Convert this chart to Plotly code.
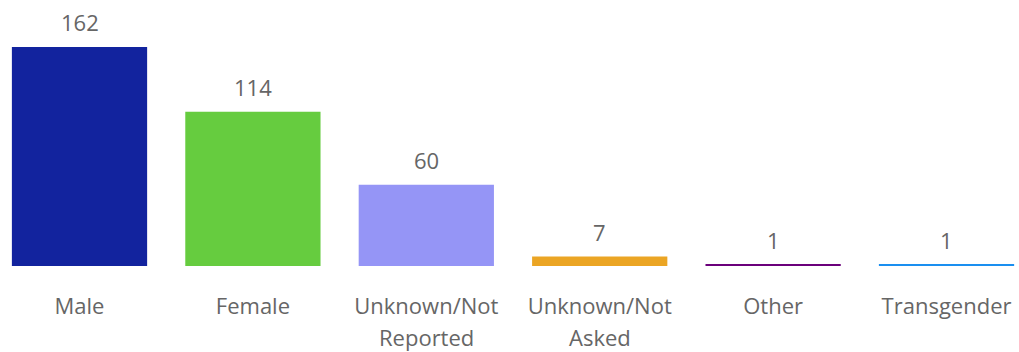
import plotly.graph_objects as go

categories = ["Male", "Female", "Unknown/Not Reported", "Unknown/Not Asked", "Other", "Transgender"]
tick_line1 = ["Male", "Female", "Unknown/Not", "Unknown/Not", "Other", "Transgender"]
tick_line2 = ["", "", "Reported", "Asked", "", ""]
values = [162, 114, 60, 7, 1, 1]
colors = ["#12239E", "#66CC3F", "#9595F6", "#EBA524", "#6B007B", "#1A8FF0"]

FONT = "Open Sans"
GRAY = "#666666"
FS = 22

fig = go.Figure()
fig.add_trace(go.Bar(
    x=categories, y=values, marker=dict(color=colors, line=dict(width=0)),
    hoverinfo="x+y",
))

for c, v in zip(categories, values):
    fig.add_annotation(x=c, y=v, text=str(v), showarrow=False, xref="x", yref="y",
                       yanchor="middle", yshift=25, borderpad=0,
                       font=dict(family=FONT, size=FS, color=GRAY))

for c, t in zip(categories, tick_line2):
    if t:
        fig.add_annotation(x=c, y=0, text=t, showarrow=False, xref="x", yref="y",
                           yanchor="middle", yshift=-71, borderpad=0,
                           font=dict(family=FONT, size=FS, color=GRAY))

fig.update_layout(
    width=1019, height=352,
    margin=dict(l=0, r=0, t=0, b=86),
    paper_bgcolor="white", plot_bgcolor="white",
    bargap=0.22, showlegend=False,
    font=dict(family=FONT, size=FS, color=GRAY),
)
fig.update_xaxes(range=[-0.4585, 5.418], showline=False, showgrid=False, ticks="",
                 tickvals=categories, ticktext=tick_line1, automargin=False,
                 tickfont=dict(family=FONT, size=FS, color=GRAY), ticklabelstandoff=25)
fig.update_yaxes(range=[0, 196.7], visible=False, showgrid=False, zeroline=False)

fig.write_html("out.html", config={"displayModeBar": False},
               post_script="document.body.style.margin='0';document.body.style.overflow='hidden';")
